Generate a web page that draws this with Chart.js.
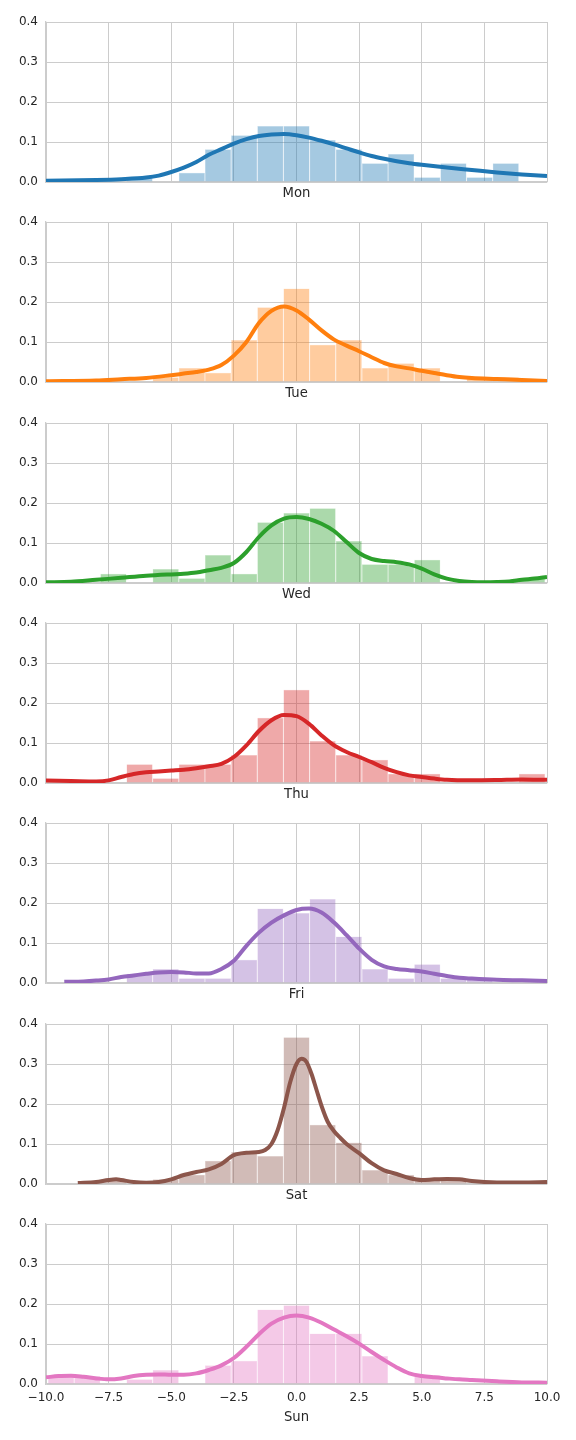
<!DOCTYPE html>
<html><head><meta charset="utf-8">
<script src="https://cdn.jsdelivr.net/npm/chart.js@4.4.1/dist/chart.umd.min.js"></script>
<style>
html,body{margin:0;padding:0;background:#fff;}
body{width:576px;height:1440px;position:relative;overflow:hidden;}
canvas{position:absolute;left:0;}
</style></head><body>
<script>
// ---------------- data ----------------
const days = ['Mon','Tue','Wed','Thu','Fri','Sat','Sun'];
const dayColors = ['#1f77b4','#ff7f0e','#2ca02c','#d62728','#9467bd','#8c564b','#e377c2'];
const binCenters = [-9.398,-8.354,-7.310,-6.265,-5.221,-4.177,-3.133,-2.088,-1.044,0,1.044,2.088,3.133,4.177,5.221,6.265,7.310,8.354,9.398];
const xTickLabels = ['\u221210.0','\u22127.5','\u22125.0','\u22122.5','0.0','2.5','5.0','7.5','10.0'];
const yTickLabels = ['0.0','0.1','0.2','0.3','0.4'];

const histMon = [0,0,0,0.012,0,0.023,0.082,0.117,0.14,0.14,0.105,0.082,0.047,0.07,0.012,0.047,0.012,0.047,0];
const histTue = [0,0,0,0,0.012,0.035,0.023,0.105,0.187,0.234,0.093,0.105,0.035,0.047,0.035,0,0.012,0.012,0];
const histWed = [0,0,0.023,0,0.035,0.012,0.07,0.023,0.152,0.175,0.187,0.105,0.047,0.047,0.058,0,0,0,0.012];
const histThu = [0,0,0,0.047,0.012,0.047,0.047,0.07,0.163,0.233,0.105,0.07,0.058,0.023,0.023,0,0,0,0.023];
const histFri = [0,0,0,0.023,0.035,0.012,0.012,0.058,0.186,0.175,0.21,0.116,0.035,0.012,0.047,0.012,0.012,0,0];
const histSat = [0,0,0.012,0,0.012,0.023,0.058,0.08,0.07,0.367,0.148,0.104,0.035,0.023,0.012,0.012,0,0,0];
const histSun = [0.02,0.02,0,0.012,0.035,0,0.047,0.058,0.186,0.197,0.126,0.126,0.07,0,0.022,0,0,0,0];

const kdeXMon = [-10,-8,-7,-6,-5.5,-5,-4.5,-4,-3.5,-3,-2.5,-2,-1.5,-1,-0.5,0,0.5,1,1.5,2,2.5,3,3.5,4,4.5,5,6,7,8,9,10];
const kdeYMon = [0.003,0.005,0.007,0.011,0.016,0.025,0.036,0.05,0.068,0.082,0.096,0.107,0.115,0.119,0.12,0.117,0.111,0.103,0.094,0.084,0.074,0.065,0.058,0.052,0.047,0.043,0.036,0.03,0.024,0.019,0.015];

const kdeXTue = [-10,-8,-7,-6,-5,-4.5,-4,-3.5,-3,-2.5,-2,-1.5,-1,-0.5,0,0.5,1,1.5,2,2.5,3,3.5,4,4.5,5,5.5,6,6.5,7,8,9,10];
const kdeYTue = [0.002,0.004,0.007,0.01,0.017,0.021,0.025,0.031,0.0425,0.066,0.1,0.1475,0.178,0.189,0.179,0.156,0.129,0.106,0.091,0.077,0.062,0.0475,0.039,0.034,0.028,0.0225,0.017,0.0125,0.01,0.0075,0.005,0.0025];

const kdeXWed = [-10,-9,-8,-7,-6,-5,-4.5,-4,-3.5,-3,-2.5,-2,-1.5,-1,-0.5,0,0.5,1,1.5,2,2.5,3,3.5,4,4.5,5,5.5,6,6.5,7,7.5,8,8.5,9,9.5,10];
const kdeYWed = [0.002,0.003,0.008,0.013,0.018,0.0215,0.023,0.026,0.032,0.038,0.05,0.0775,0.115,0.144,0.161,0.165,0.16,0.148,0.13,0.1025,0.075,0.06,0.055,0.052,0.0465,0.036,0.0215,0.011,0.005,0.0025,0.002,0.0025,0.004,0.008,0.011,0.015];

const kdeXThu = [-10,-9,-8,-7.5,-7,-6.5,-6,-5.5,-5,-4.5,-4,-3.5,-3,-2.5,-2,-1.5,-1,-0.5,0,0.5,1,1.5,2,2.5,3,3.5,4,4.5,5,5.5,6,7,8,9,10];
const kdeYThu = [0.006,0.005,0.004,0.0065,0.015,0.0225,0.027,0.029,0.031,0.033,0.037,0.042,0.048,0.065,0.094,0.13,0.157,0.17,0.167,0.148,0.119,0.094,0.0775,0.065,0.052,0.038,0.027,0.019,0.015,0.011,0.008,0.0067,0.0075,0.009,0.008];

const kdeXFri = [-9.27,-8.5,-8,-7.5,-7,-6.5,-6,-5.5,-5,-4.5,-4,-3.5,-3,-2.5,-2,-1.5,-1,-0.5,0,0.5,1,1.5,2,2.5,3,3.5,4,4.5,5,5.5,6,6.5,7,8,9,10];
const kdeYFri = [0.003,0.004,0.006,0.009,0.015,0.019,0.023,0.0265,0.0275,0.0265,0.024,0.024,0.035,0.0556,0.093,0.126,0.151,0.169,0.1826,0.186,0.176,0.151,0.1195,0.086,0.058,0.0415,0.035,0.032,0.029,0.023,0.0175,0.013,0.011,0.008,0.0066,0.005];

const kdeXSat = [-8.73,-8,-7.5,-7.2,-7,-6.5,-6,-5.5,-5,-4.5,-4,-3.5,-3,-2.5,-2,-1.5,-1.25,-1,-0.75,-0.5,-0.25,0,0.2,0.4,0.6,0.8,1,1.25,1.5,1.75,2,2.5,3,3.5,4,4.5,5,5.5,6,6.5,7,7.5,8,9,10];
const kdeYSat = [0.0025,0.005,0.01,0.0116,0.01,0.005,0.0033,0.005,0.0116,0.0224,0.03,0.0365,0.05,0.072,0.078,0.08,0.085,0.1,0.135,0.19,0.255,0.3,0.313,0.305,0.275,0.235,0.195,0.155,0.132,0.115,0.1,0.077,0.052,0.034,0.025,0.015,0.01,0.0116,0.0125,0.0116,0.0075,0.005,0.004,0.004,0.005];

const kdeXSun = [-10,-9.5,-9,-8.5,-8,-7.5,-7,-6.5,-6,-5.5,-5,-4.5,-4,-3.5,-3,-2.5,-2,-1.5,-1,-0.5,0,0.5,1,1.5,2,2.5,3,3.5,4,4.5,5,5.5,6,6.5,7,8,9,10];
const kdeYSun = [0.0166,0.02,0.0207,0.018,0.014,0.0116,0.014,0.02,0.023,0.024,0.023,0.023,0.0265,0.035,0.0465,0.065,0.093,0.1245,0.151,0.166,0.171,0.166,0.153,0.136,0.1195,0.101,0.08,0.06,0.0415,0.0265,0.02,0.0166,0.014,0.0116,0.01,0.0066,0.004,0.0033];

const histByDay = [histMon,histTue,histWed,histThu,histFri,histSat,histSun];
const kdeXByDay = [kdeXMon,kdeXTue,kdeXWed,kdeXThu,kdeXFri,kdeXSat,kdeXSun];
const kdeYByDay = [kdeYMon,kdeYTue,kdeYWed,kdeYThu,kdeYFri,kdeYSat,kdeYSun];

// ---------------- layout ----------------
const PLOT_LEFT = 46, PLOT_RIGHT = 547, PLOT_H = 160, PAD_TOP = 18;
const FIRST_TOP = 22, STEP = 200.33;
const TEXT = '#262626', GRID = '#cccccc';
const TICK_SIZE = 12, LABEL_SIZE = 13.2;
Chart.defaults.font.family = "'DejaVu Sans', sans-serif";
Chart.defaults.color = TEXT;

function rgba(hex, a) {
  const n = parseInt(hex.slice(1), 16);
  return `rgba(${(n>>16)&255},${(n>>8)&255},${n&255},${a})`;
}

days.forEach((day, i) => {
  const isLast = i === days.length - 1;
  const half = LABEL_SIZE * 1.2 / 2;
  const xh = (isLast ? 33.5 : 11.5) + half;
  const H = Math.ceil(PAD_TOP + PLOT_H + xh + 4);
  const top = Math.round(FIRST_TOP + i * STEP) - PAD_TOP;
  const cv = document.createElement('canvas');
  cv.width = 576; cv.height = H;
  cv.style.width = '576px'; cv.style.height = H + 'px';
  cv.style.top = top + 'px';
  document.body.appendChild(cv);

  const col = dayColors[i];
  const hist = histByDay[i].map((v, k) => ({x: binCenters[k], y: v}));
  const kde = kdeXByDay[i].map((x, k) => ({x: x, y: kdeYByDay[i][k]}));

  new Chart(cv, {
    type: 'bar',
    data: {
      datasets: [
        {
          type: 'line', data: kde, borderColor: col, borderWidth: 4,
          pointRadius: 0, fill: false, cubicInterpolationMode: 'monotone',
          clip: {left: 0, right: 0, top: 6, bottom: 0}
        },
        {
          type: 'bar', data: hist, backgroundColor: rgba(col, 0.4),
          borderColor: rgba(col, 0.2), borderWidth: 0.5,
          barPercentage: 1, categoryPercentage: 1, inflateAmount: 0
        }
      ]
    },
    options: {
      responsive: false, animation: false, events: [],
      layout: {padding: {top: PAD_TOP, left: 0, right: 576 - PLOT_RIGHT, bottom: H - PAD_TOP - PLOT_H - xh}},
      plugins: {legend: {display: false}, tooltip: {enabled: false}},
      scales: {
        x: {
          type: 'linear', min: -10, max: 10, offset: false,
          afterFit: s => { s.height = xh; },
          grid: {color: GRID, lineWidth: 1, drawTicks: false, offset: false},
          border: {display: true, color: GRID, width: 1.25},
          ticks: {
            display: isLast, stepSize: 2.5, padding: 7, maxRotation: 0, autoSkip: false,
            font: {size: TICK_SIZE}, color: TEXT,
            callback: (v, idx) => xTickLabels[idx]
          },
          title: {display: true, text: day, font: {size: LABEL_SIZE}, color: TEXT, padding: {top: 0, bottom: 0}}
        },
        y: {
          type: 'linear', min: 0, max: 0.4,
          afterFit: s => { s.width = PLOT_LEFT; },
          grid: {color: GRID, lineWidth: 1, drawTicks: false},
          border: {display: true, color: GRID, width: 1.25},
          ticks: {
            stepSize: 0.1, padding: 8, font: {size: TICK_SIZE}, color: TEXT,
            callback: (v, idx) => yTickLabels[idx]
          }
        }
      }
    }
  });
});
</script>
</body></html>
